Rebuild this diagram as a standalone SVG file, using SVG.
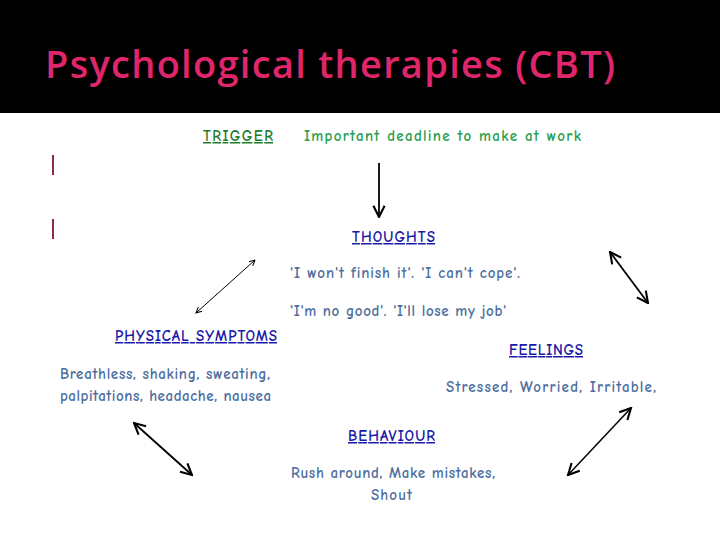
<svg xmlns="http://www.w3.org/2000/svg" width="720" height="540" viewBox="0 0 720 540">
<defs>
<marker id="ah" viewBox="0 0 10 10" refX="9" refY="5" markerWidth="7" markerHeight="7" orient="auto-start-reverse" markerUnits="userSpaceOnUse"><path d="M1,1 L9,5 L1,9" fill="none" stroke="#000" stroke-width="1.5"/></marker>
<marker id="ahb" viewBox="0 0 10 10" refX="9" refY="5" markerWidth="14" markerHeight="14" orient="auto-start-reverse" markerUnits="userSpaceOnUse"><path d="M1,1 L9,5 L1,9" fill="none" stroke="#000" stroke-width="1.5"/></marker>
</defs>
<style>
text{font-family:"Comic Neue","DejaVu Sans",sans-serif;font-weight:bold}
.h{fill:#1a1aa8;font-size:15px;text-decoration:underline}
.b{fill:#4f6f9f;font-size:15px}
.c{stroke:#000;fill:none}
</style>
<rect width="720" height="540" fill="#fff"/>
<rect width="720" height="113" fill="#000"/>
<text x="45" y="78" font-size="38" fill="#e0266a" textLength="570" style="font-family:'Open Sans',sans-serif;font-weight:600">Psychological therapies (CBT)</text>
<rect x="52" y="155" width="2" height="20" fill="#8b2a4a"/>
<rect x="52" y="219" width="2" height="20" fill="#8b2a4a"/>
<g id="trigger"><text x="203" y="141" class="h" style="fill:#1f7a2a" textLength="70">TRIGGER</text><text x="304" y="141" fill="#2aa050" font-size="15" textLength="277">Important deadline to make at work</text></g>
<g id="thoughts"><text x="352" y="242" class="h" textLength="83">THOUGHTS</text><text x="290" y="278" class="b" textLength="230">'I won't finish it'.  'I can't cope'.</text><text x="290" y="316" class="b" textLength="216">'I'm no good'.  'I'll lose my job'</text></g>
<g id="physical"><text x="115" y="341" class="h" textLength="162">PHYSICAL SYMPTOMS</text><text x="60" y="379" class="b" textLength="210">Breathless, shaking, sweating,</text><text x="60" y="401" class="b" textLength="211">palpitations, headache, nausea</text></g>
<g id="feelings"><text x="509" y="355" class="h" textLength="74">FEELINGS</text><text x="446" y="392" class="b" textLength="210">Stressed, Worried, Irritable,</text></g>
<g id="behaviour"><text x="348" y="441" class="h" textLength="87">BEHAVIOUR</text><text x="291" y="478" class="b" textLength="204">Rush around, Make mistakes,</text><text x="371" y="500" class="b" textLength="41">Shout</text></g>
<g id="connectors">
<line class="c" x1="379" y1="163" x2="379" y2="217" stroke-width="1.8" marker-end="url(#ahb)"/>
<line class="c" x1="255" y1="260" x2="196" y2="313" stroke-width="1" marker-start="url(#ah)" marker-end="url(#ah)"/>
<line class="c" x1="610" y1="252" x2="648" y2="303" stroke-width="1.8" marker-start="url(#ahb)" marker-end="url(#ahb)"/>
<line class="c" x1="134" y1="423" x2="192" y2="475" stroke-width="1.8" marker-start="url(#ahb)" marker-end="url(#ahb)"/>
<line class="c" x1="631" y1="408" x2="568" y2="475" stroke-width="1.5" marker-start="url(#ahb)" marker-end="url(#ahb)"/>
</g>
</svg>
